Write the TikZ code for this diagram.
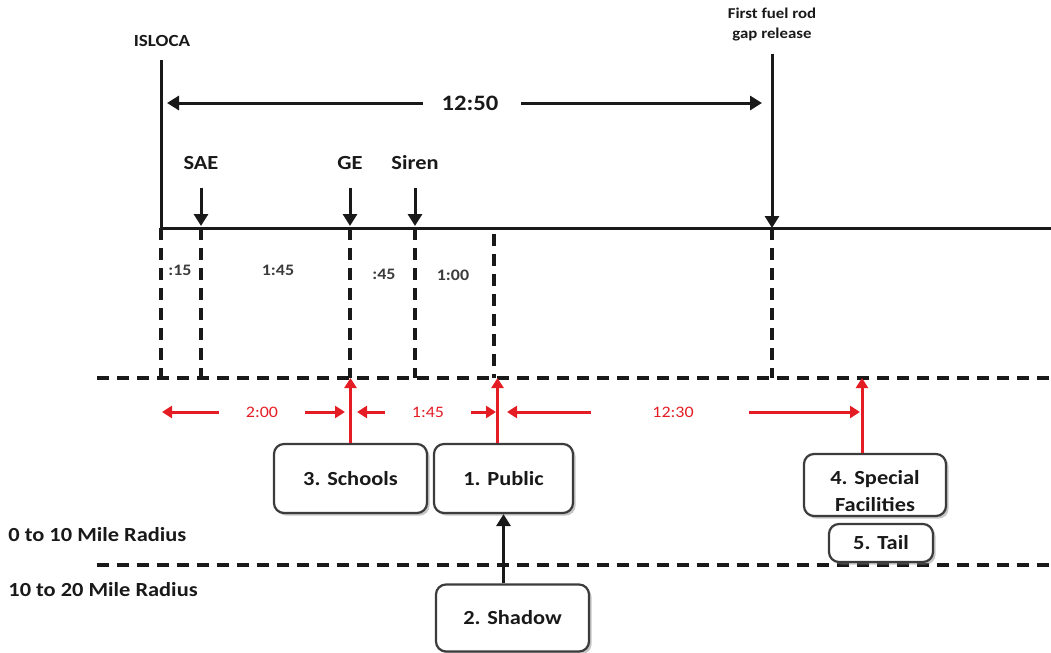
\documentclass[tikz,border=0pt]{standalone}
\usepackage{fontspec}
\setmainfont{Carlito}[FakeStretch=1.12]
\usetikzlibrary{arrows.meta,shadows}
\definecolor{tlred}{RGB}{228,28,36}
\definecolor{ink}{RGB}{25,25,25}

\begin{document}
\begin{tikzpicture}[x=0.5pt,y=-0.5pt,
        every node/.style={font=\bfseries\fontsize{10}{12}\selectfont,text=ink},
        axis line/.style={line width=1.5pt,draw=ink},
        dash line/.style={line width=1.8pt,draw=ink,dash pattern=on 6pt off 4pt},
        blk arrow/.style={axis line,-{Triangle[length=6pt,width=7pt]}},
        red arrow/.style={line width=1.5pt,draw=tlred,-{Triangle[length=5pt,width=6pt]}},
        small/.style={font=\bfseries\fontsize{8}{9}\selectfont,text=ink!85},
        red small/.style={font=\fontsize{8}{9}\selectfont,text=tlred},
        evac/.style={draw=ink!85,line width=1.1pt,rounded corners=5pt,fill=white,
            drop shadow={opacity=0.45,shadow xshift=1.3pt,shadow yshift=-1.3pt},
            minimum height=34.5pt,align=center,inner sep=2pt}]

        \useasboundingbox (0,0) rectangle (1051,653);

        \coordinate (tisl) at (161,228);
        \coordinate (tsae) at (201,228);
        \coordinate (tge) at (350,228);
        \coordinate (tsiren) at (415,228);
        \coordinate (tgap) at (772,228);
        \coordinate (tend) at (1051,228);
        \coordinate (zone) at (97,378);
        \coordinate (ring) at (97,565);

        \node[font=\bfseries\fontsize{8.5}{10}\selectfont] (isloca) at (162,41) {ISLOCA};
        \node[align=center,font=\bfseries\fontsize{7.5}{10}\selectfont] (gaprel) at (772,25) {First fuel rod\\gap release};

        \draw[axis line] (tisl) -- ++(0,-168);
        \draw[axis line] (tisl) -- (tend);
        \draw[blk arrow,shorten <=2.5pt] (gaprel.south) -- (tgap);

        \node[font=\bfseries\fontsize{11}{13}\selectfont] (span) at (470,103) {12:50};
        \coordinate (lspan) at (167,103);
        \coordinate (rspan) at (762,103);
        \draw[blk arrow,shorten <=6pt] (span.west) -- (lspan);
        \draw[blk arrow,shorten <=8pt] (span.east) -- (rspan);

        \node (sae) at (201,163) {SAE};
        \node (ge) at (350,163) {GE};
        \node (siren) at (415,163) {Siren};
        \foreach \ev/\tp in {sae/tsae,ge/tge,siren/tsiren}{
                \draw[blk arrow,shorten <=5.5pt,shorten >=1pt] (\ev.south) -- (\tp);
            }

        \foreach \x in {161,201,350,415,772}{
                \draw[dash line] (\x,228) -- (\x,378);
            }
        \draw[dash line] (494,234) -- (494,378);

        \node[small] (m15) at (180,270) {:15};
        \node[small] (h145) at (278,270) {1:45};
        \node[small] (m45) at (384,274) {:45};
        \node[small] (h100) at (453,275) {1:00};

        \draw[dash line] (zone) -- (1051,378);
        \draw[dash line] (ring) -- (1051,565);

        \node[red small] (d200) at (262,412) {2:00};
        \node[red small] (d145) at (428,412) {1:45};
        \node[red small] (d1230) at (673,412) {12:30};
        \coordinate (a1) at (162,412);
        \coordinate (a2) at (345,412);
        \coordinate (a3) at (357,412);
        \coordinate (a4) at (496,412);
        \coordinate (a5) at (507,412);
        \coordinate (a6) at (860,412);
        \draw[red arrow,shorten <=10pt] (d200.west) -- (a1);
        \draw[red arrow,shorten <=10pt] (d200.east) -- (a2);
        \draw[red arrow,shorten <=10pt] (d145.west) -- (a3);
        \draw[red arrow,shorten <=10pt] (d145.east) -- (a4);
        \draw[red arrow,shorten <=27pt] (d1230.west) -- (a5);
        \draw[red arrow,shorten <=24pt] (d1230.east) -- (a6);

        \node[evac,minimum width=76.5pt] (schools) at (350.5,478.5) {3. Schools};
        \node[evac,minimum width=69.5pt] (public) at (503.5,478.5) {1. Public};
        \node[evac,minimum width=76.5pt,minimum height=33.5pt] (shadow) at (512.5,618) {2. Shadow};
        \node[evac,minimum width=71pt,minimum height=31pt,font=\bfseries\fontsize{10}{13.5}\selectfont] (special) at (875,485) {\rule{0pt}{13pt}4. Special\\Facilities};
        \node[evac,minimum width=52pt,minimum height=19pt] (tail) at (881,543) {5. Tail};

        \draw[red arrow] (schools.north) -- (schools.north |- zone);
        \draw[red arrow] ([xshift=-3pt]public.north) -- ([xshift=-3pt]public.north |- zone);
        \draw[red arrow] ([xshift=-6.5pt]special.north) -- ([xshift=-6.5pt]special.north |- zone);
        \draw[blk arrow] (shadow.north -| public.south) -- (public.south);

        \node[anchor=west,inner sep=0pt] (near) at (8,535) {0 to 10 Mile Radius};
        \node[anchor=west,inner sep=0pt] (far) at (8,590) {10 to 20 Mile Radius};
    \end{tikzpicture}
\end{document}
